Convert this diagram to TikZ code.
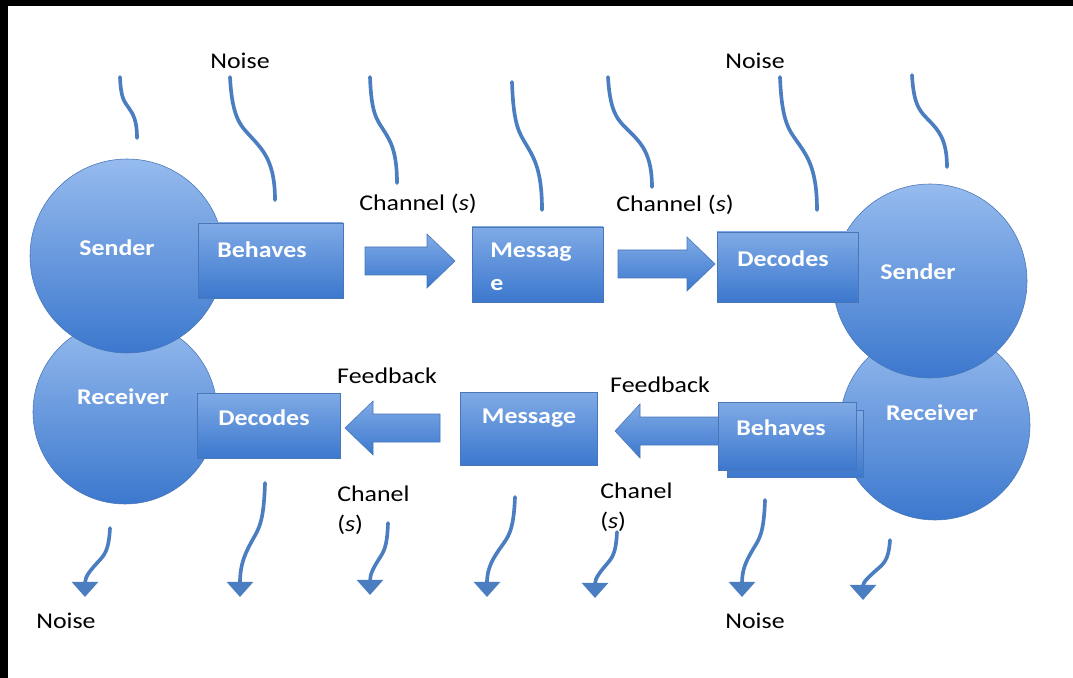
\documentclass[tikz,border=0pt]{standalone}
\usepackage{fontspec}
\setmainfont{Carlito}[FakeStretch=1.15]
\usetikzlibrary{positioning, calc, arrows.meta}

\definecolor{shapetop}{RGB}{150,187,238}
\definecolor{shapebot}{RGB}{60,120,206}
\definecolor{shapeline}{RGB}{72,118,182}
\definecolor{noiseblue}{RGB}{74,126,192}

\begin{document}
\begin{tikzpicture}[
    x=0.25mm, y=-0.25mm,
    roundstyle/.style={
        circle, draw=shapeline, line width=0.4pt,
        top color=shapetop, bottom color=shapebot, inner sep=0pt
    },
    boxstyle/.style={
        rectangle, draw=shapeline, line width=0.4pt,
        top color=shapetop!75!shapebot, bottom color=shapebot, inner sep=0pt
    },
    arrowstyle/.style={
        draw=shapeline, line width=0.4pt,
        top color=shapetop!75!shapebot, bottom color=shapebot
    },
    boxtext/.style={text=white, font=\fontsize{16}{23}\selectfont\bfseries, inner sep=0pt, align=left},
    plaintext/.style={text=black, font=\fontsize{16}{21}\selectfont, inner sep=0pt, align=left},
    noise/.style={noiseblue, line width=2.6pt, line cap=round},
    noisetip/.style={noise, -{Triangle[width=6.5mm, length=3.8mm]}}
]

% parameters
\def\bw{14}
\def\hw{27}

% macro: block arrow (name, tail x, head base x, tip x, mid y)
\newcommand{\blockarrow}[5]{
  \path[arrowstyle] (#2,#5-\bw) -- (#3,#5-\bw) -- (#3,#5-\hw) -- (#4,#5)
    -- (#3,#5+\hw) -- (#3,#5+\bw) -- (#2,#5+\bw) -- cycle;
  \coordinate (#1) at (#4,#5);
}

% macro: wavy noise line (style, start x, start y, end x, end y)
\newcommand{\noiseline}[5]{
  \draw[#1] (#2,#3)
    .. controls ({#2+0.05*(#4-#2)},{#3+0.35*(#5-#3)}) and ({#2+0.25*(#4-#2)},{#3+0.4*(#5-#3)})
    .. ({#2+0.5*(#4-#2)},{#3+0.5*(#5-#3)})
    .. controls ({#2+0.75*(#4-#2)},{#3+0.6*(#5-#3)}) and (#4,{#3+0.7*(#5-#3)})
    .. (#4,#5);
}

% page and frame
\useasboundingbox (0,0) rectangle (1073,678);
\fill[white] (0,0) rectangle (1073,678);
\fill[black] (0,0) rectangle (1073,6);
\fill[black] (0,0) rectangle (8,678);

% people
\node[roundstyle, minimum size=46mm] (receiverL) at (125,412) {};
\node[roundstyle, minimum size=48.5mm] (senderL) at (127,256) {};
\node[roundstyle, minimum size=47.5mm] (receiverR) at (935,425) {};
\node[roundstyle, minimum size=48.5mm] (senderR) at (930,281) {};

% block arrows
\blockarrow{chanTa}{365}{427}{455}{261}
\blockarrow{chanTb}{618}{687}{715}{264}
\blockarrow{feedBa}{440}{373}{345}{428}
\blockarrow{feedBb}{722}{640}{615}{431}

% boxes
\node[boxstyle, minimum width=36.25mm, minimum height=18.75mm] (behavesL) at (270.5,260.5) {};
\node[boxstyle, minimum width=35.75mm, minimum height=16.25mm] (decodesL) at (268.5,425.5) {};
\node[boxstyle, minimum width=32.75mm, minimum height=18.75mm] (messageT) at (537.5,264.5) {};
\node[boxstyle, minimum width=35.25mm, minimum height=17.5mm] (decodesR) at (787.5,267) {};
\node[boxstyle, minimum width=34.25mm, minimum height=18.25mm] (messageB) at (528.5,428.5) {};
\node[boxstyle, minimum width=34mm, minimum height=16.75mm] (behavesRb) at (795,443.5) {};
\node[boxstyle, minimum width=34.5mm, minimum height=17mm] (behavesR) at (787,436) {};

% texts in shapes
\node[boxtext] (senderLtxt) at (117,248) {Sender};
\node[boxtext] (receiverLtxt) at (123,397) {Receiver};
\node[boxtext] (senderRtxt) at (918,272) {Sender};
\node[boxtext] (receiverRtxt) at (932,413) {Receiver};
\node[boxtext] (behavesLtxt) at (262,250) {Behaves};
\node[boxtext] (decodesLtxt) at (264,418) {Decodes};
\node[boxtext, anchor=north west] (messageTtxt) at (490,243) {Messag\\e};
\node[boxtext] (decodesRtxt) at (783,259) {Decodes};
\node[boxtext] (messageBtxt) at (529,418) {Message};
\node[boxtext] (behavesRtxt) at (781,428) {Behaves};

% labels
\node[plaintext] (noiseTL) at (240,61) {Noise};
\node[plaintext] (noiseTR) at (755,61) {Noise};
\node[plaintext] (noiseBL) at (66,621) {Noise};
\node[plaintext] (noiseBR) at (755,621) {Noise};
\node[plaintext] (channelTa) at (418,204) {Channel (\textit{s})};
\node[plaintext] (channelTb) at (675,205) {Channel (\textit{s})};
\node[plaintext] (feedbackL) at (387,376) {Feedback};
\node[plaintext] (feedbackR) at (660,385) {Feedback};
\node[plaintext, anchor=north west] (chanelL) at (337,486) {Chanel\\(\textit{s})};
\node[plaintext, anchor=north west] (chanelR) at (600,483) {Chanel\\(\textit{s})};

% noise coming in
\foreach \xa/\ya/\xb/\yb in {120/77/137/138, 230/77/275/200, 370/77/397/183,
    512/82/542/210, 608/77/652/187, 780/77/817/210, 912/75/947/167}{
  \noiseline{noise}{\xa}{\ya}{\xb}{\yb}
}

% noise going out
\foreach \xa/\ya/\xb/\yb in {110/528/85/597, 265/483/240/597, 388/523/370/595,
    515/497/487/597, 617/532/595/598, 765/500/742/597, 890/540/863/600}{
  \noiseline{noisetip}{\xa}{\ya}{\xb}{\yb}
}

\end{tikzpicture}
\end{document}
